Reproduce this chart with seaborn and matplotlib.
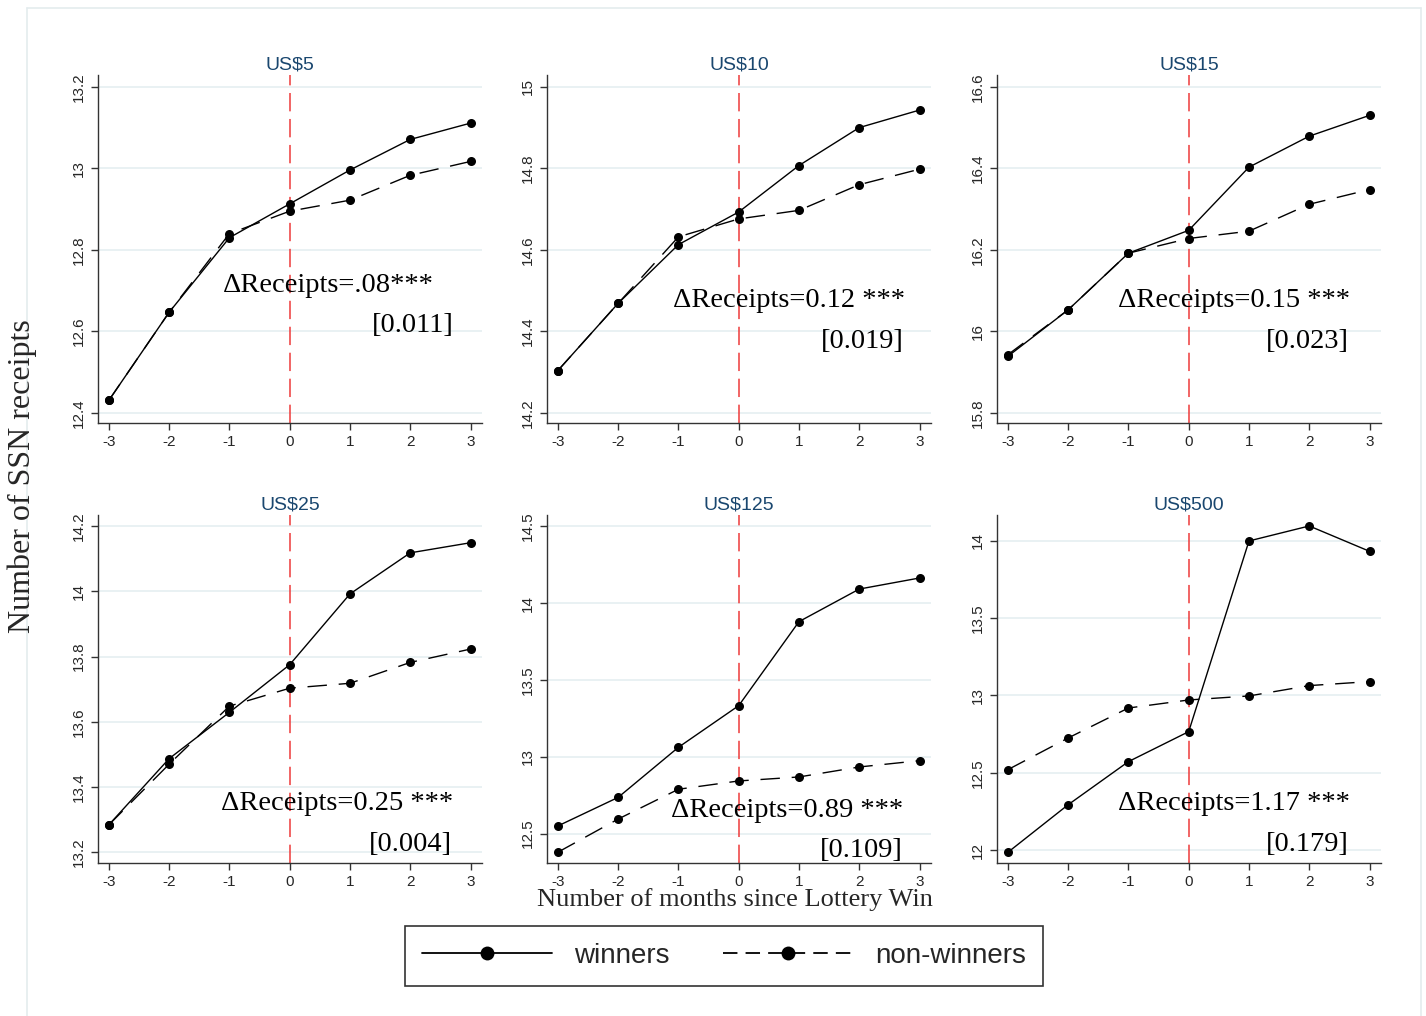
import matplotlib
matplotlib.use("Agg")
import matplotlib.pyplot as plt
import matplotlib.lines as mlines
from matplotlib.ticker import FormatStrFormatter
import seaborn as sns
import pandas as pd
import numpy as np

sns.set_theme(style="white")
plt.rcParams['font.family'] = ['Liberation Sans', 'DejaVu Sans']

months = [-3, -2, -1, 0, 1, 2, 3]
titles = ["US$5", "US$10", "US$15", "US$25", "US$125", "US$500"]

win_5 = [12.431, 12.647, 12.830, 12.913, 12.996, 13.071, 13.111]
non_5 = [12.431, 12.647, 12.840, 12.895, 12.922, 12.983, 13.017]
win_10 = [14.304, 14.469, 14.613, 14.693, 14.807, 14.900, 14.943]
non_10 = [14.304, 14.469, 14.632, 14.676, 14.697, 14.760, 14.798]
win_15 = [15.939, 16.053, 16.192, 16.248, 16.403, 16.479, 16.530]
non_15 = [15.943, 16.053, 16.192, 16.228, 16.246, 16.312, 16.348]
win_25 = [13.284, 13.487, 13.629, 13.775, 13.992, 14.118, 14.149]
non_25 = [13.284, 13.470, 13.648, 13.703, 13.718, 13.782, 13.823]
win_125 = [12.550, 12.736, 13.062, 13.333, 13.880, 14.092, 14.164]
non_125 = [12.379, 12.595, 12.789, 12.843, 12.869, 12.934, 12.975]
win_500 = [11.985, 12.293, 12.572, 12.766, 14.000, 14.097, 13.933]
non_500 = [12.520, 12.725, 12.919, 12.971, 12.997, 13.064, 13.090]

winners = [win_5, win_10, win_15, win_25, win_125, win_500]
nonwinners = [non_5, non_10, non_15, non_25, non_125, non_500]

effects = ["\u0394Receipts=.08***", "\u0394Receipts=0.12 ***", "\u0394Receipts=0.15 ***",
           "\u0394Receipts=0.25 ***", "\u0394Receipts=0.89 ***", "\u0394Receipts=1.17 ***"]
ses = ["[0.011]", "[0.019]", "[0.023]", "[0.004]", "[0.109]", "[0.179]"]

yticks = [
    [12.4, 12.6, 12.8, 13.0, 13.2],
    [14.2, 14.4, 14.6, 14.8, 15.0],
    [15.8, 16.0, 16.2, 16.4, 16.6],
    [13.2, 13.4, 13.6, 13.8, 14.0, 14.2],
    [12.5, 13.0, 13.5, 14.0, 14.5],
    [12.0, 12.5, 13.0, 13.5, 14.0],
]
ylims = [(12.3755, 13.229), (14.1755, 15.029), (15.7755, 16.629),
         (13.167, 14.234), (12.309, 14.574), (11.916, 14.168)]

# text positions (axes fraction)
eff_pos = [(0.326, 0.394), (0.328, 0.351), (0.315, 0.351),
           (0.320, 0.172), (0.323, 0.152), (0.315, 0.170)]
se_pos = [(0.927, 0.279), (0.930, 0.233), (0.917, 0.233),
          (0.922, 0.052), (0.927, 0.037), (0.917, 0.052)]

W, H = 1426, 1016
fig = plt.figure(figsize=(W / 100, H / 100), dpi=100)
fig.patch.set_facecolor("white")

lefts = [98, 547, 997]
tops = [75, 515]
aw, ah = 384, 348

title_color = "#1a476f"
grid_color = "#e9f1f3"
serif = ['Liberation Serif', 'DejaVu Serif']
non_dash = (14, 8.5)

for i in range(6):
    r, c = divmod(i, 3)
    x0 = lefts[c] / W
    y0 = 1 - (tops[r] + ah) / H
    ax = fig.add_axes([x0, y0, aw / W, ah / H])
    df = pd.DataFrame({
        "month": months * 2,
        "value": winners[i] + nonwinners[i],
        "group": ["winners"] * 7 + ["non-winners"] * 7,
    })
    sns.lineplot(data=df, x="month", y="value", style="group",
                 dashes={"winners": "", "non-winners": non_dash},
                 markers={"winners": "o", "non-winners": "o"},
                 color="black", linewidth=1.0, markersize=6.5,
                 markeredgewidth=0, legend=False, ax=ax, zorder=3)
    ax.axvline(0, color="#ee3b3b", linewidth=1.1, dashes=(12, 5), zorder=2)
    ax.set_xlim(-3.18, 3.19)
    ax.set_ylim(*ylims[i])
    ax.set_xticks(months)
    ax.set_xticklabels([str(m) for m in months])
    ax.set_yticks(yticks[i])
    ax.yaxis.set_major_formatter(FormatStrFormatter('%g'))
    ax.yaxis.grid(True, color=grid_color, linewidth=1.4)
    ax.xaxis.grid(False)
    ax.set_axisbelow(True)
    for s in ["top", "right"]:
        ax.spines[s].set_visible(False)
    for s in ["left", "bottom"]:
        ax.spines[s].set_color("#333333")
        ax.spines[s].set_linewidth(1.0)
    ax.tick_params(axis="both", which="major", direction="out", length=5,
                   width=1.0, color="#333333", labelsize=11, pad=4,
                   bottom=True, left=True)
    for lab in ax.get_yticklabels():
        lab.set_rotation(90)
        lab.set_va("center")
    ax.set_xlabel("")
    ax.set_ylabel("")
    ax.set_title(titles[i].replace("$", r"\$"), color=title_color, fontsize=14, pad=4)
    ax.text(eff_pos[i][0], eff_pos[i][1], effects[i], transform=ax.transAxes,
            ha="left", va="center", fontsize=20.5, family=serif, color="black")
    ax.text(se_pos[i][0], se_pos[i][1], ses[i], transform=ax.transAxes,
            ha="right", va="center", fontsize=20.5, family=serif, color="black")

fig.text(22 / W, 1 - 476 / H, "Number of SSN receipts", rotation=90,
         ha="center", va="center", fontsize=23, family=serif)
fig.text(735 / W, 1 - 900 / H, "Number of months since Lottery Win",
         ha="center", va="center", fontsize=19, family=serif)

h1 = mlines.Line2D([], [], color="black", linewidth=1.3, marker="o", markersize=10,
                   markeredgewidth=0)
h2 = mlines.Line2D([], [], color="black", linewidth=1.3, marker="o", markersize=10,
                   markeredgewidth=0, dashes=(8, 4.5))
leg = fig.legend([h1, h2], ["winners", "non-winners"], loc="center",
                 bbox_to_anchor=(724 / W, 1 - 956 / H), ncol=2, fontsize=20,
                 frameon=True, fancybox=False, edgecolor="black", handlelength=4.7,
                 handletextpad=0.8, columnspacing=1.9, borderpad=0.6, numpoints=1)
leg.get_frame().set_linewidth(1.2)

# faint outer frame
frame_c = "#e4ecee"
fig.add_artist(mlines.Line2D([27 / W, 27 / W], [0, 1 - 8 / H], transform=fig.transFigure, color=frame_c, lw=1.2))
fig.add_artist(mlines.Line2D([27 / W, 1421 / W], [1 - 8 / H, 1 - 8 / H], transform=fig.transFigure, color=frame_c, lw=1.2))
fig.add_artist(mlines.Line2D([1421 / W, 1421 / W], [0, 1 - 8 / H], transform=fig.transFigure, color=frame_c, lw=1.2))

fig.savefig("out.png", dpi=100, facecolor="white")
